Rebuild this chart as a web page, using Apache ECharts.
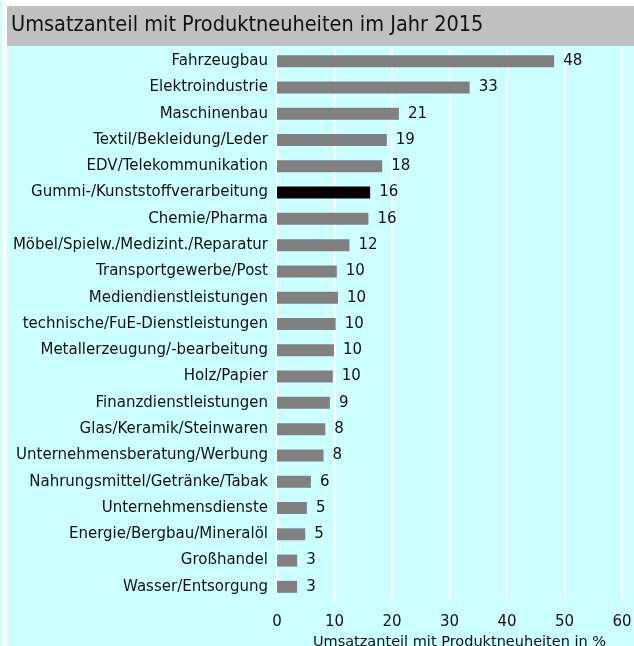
<!DOCTYPE html>
<html><head><meta charset="utf-8">
<script src="https://cdn.jsdelivr.net/npm/echarts@6/dist/echarts.min.js"></script>
<style>html,body{margin:0;padding:0;background:#fff}#c{width:634px;height:646px}</style>
</head><body><div id="c"></div>
<script>
const categories = ["Fahrzeugbau","Elektroindustrie","Maschinenbau","Textil/Bekleidung/Leder","EDV/Telekommunikation","Gummi-/Kunststoffverarbeitung","Chemie/Pharma","Möbel/Spielw./Medizint./Reparatur","Transportgewerbe/Post","Mediendienstleistungen","technische/FuE-Dienstleistungen","Metallerzeugung/-bearbeitung","Holz/Papier","Finanzdienstleistungen","Glas/Keramik/Steinwaren","Unternehmensberatung/Werbung","Nahrungsmittel/Getränke/Tabak","Unternehmensdienste","Energie/Bergbau/Mineralöl","Großhandel","Wasser/Entsorgung"];
const values = [48.2,33.5,21.2,19.1,18.3,16.2,15.9,12.6,10.4,10.6,10.2,9.9,9.7,9.2,8.4,8.1,5.9,5.2,4.9,3.5,3.5];
const valueLabels = ["48","33","21","19","18","16","16","12","10","10","10","10","10","9","8","8","6","5","5","3","3"];
const highlight = "Gummi-/Kunststoffverarbeitung";
const xTicks = [0,10,20,30,40,50,60];
const titleText = "Umsatzanteil mit Produktneuheiten im Jahr 2015";
const axisName = "Umsatzanteil mit Produktneuheiten in %";

const font = "DejaVu Sans";
const chart = echarts.init(document.getElementById('c'), null, {renderer:'canvas'});
chart.setOption({
  animation:false,
  backgroundColor:'#ffffff',
  graphic:[
    {type:'rect', z:-10, shape:{x:7,y:46,width:627,height:600}, style:{fill:'#ccffff'}},
    {type:'rect', z:-10, shape:{x:7,y:6,width:627,height:40}, style:{fill:'#c0c0c0'}},
    {type:'rect', z:-10, shape:{x:0,y:0,width:2,height:646}, style:{fill:'#ccffff'}}
  ],
  title:{text:titleText, left:6, top:9, textStyle:{fontFamily:"DejaVu Sans Condensed", fontSize:21.5, fontWeight:'normal', color:'#111'}},
  grid:{left:277, right:12, top:48, bottom:46, outerBoundsMode:'none', containLabel:false},
  xAxis:{type:'value', min:0, max:60, interval:10,
    axisLine:{show:false}, axisTick:{show:false},
    axisLabel:{fontFamily:font, fontSize:15, color:'#111', margin:15, formatter:v=>xTicks.includes(v)?String(v):''},
    splitLine:{show:true, lineStyle:{color:'#ffffff', width:2}},
    name:axisName, nameLocation:'middle', nameGap:30,
    nameTextStyle:{fontFamily:font, fontSize:14.5, color:'#111', padding:[0,0,0,20]}
  },
  yAxis:{type:'category', data:categories, inverse:true,
    axisLine:{show:true, lineStyle:{color:'#ffffff', width:2}}, axisTick:{show:false},
    axisLabel:{fontFamily:font, fontSize:15, color:'#111', margin:9, interval:0}
  },
  series:[{type:'bar', barWidth:12,
    data:values.map((v,i)=>({value:v, itemStyle:{color: categories[i]===highlight?'#000000':'#808080'}})),
    label:{show:true, position:'right', distance:9, fontFamily:font, fontSize:15, color:'#111',
      formatter:p=>valueLabels[p.dataIndex]}
  }]
});
</script></body></html>
